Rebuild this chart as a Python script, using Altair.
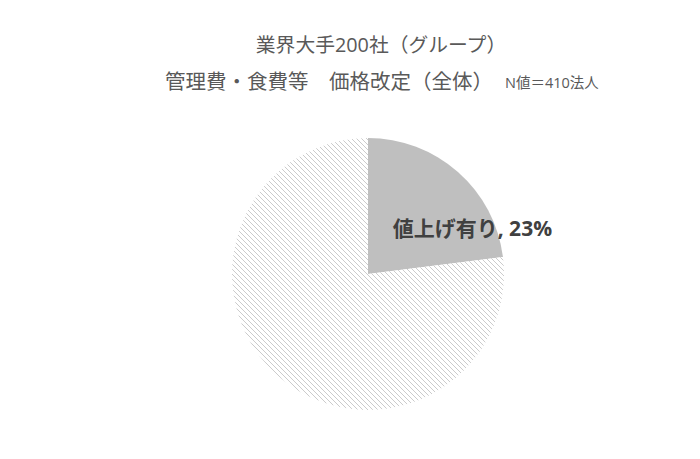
import altair as alt
import pandas as pd

# data
labels = ["値上げ有り", "その他"]
values = [23, 77]
orders = [1, 2]

title_line1 = "業界大手200社（グループ）"
title_line2 = "管理費・食費等　価格改定（全体）"
note_text = "N値＝410法人"

df = pd.DataFrame({"label": labels, "value": values, "order": orders})
df["text"] = df["label"] + ", " + df["value"].astype(str) + "%"

CX, CY, R = 360, 266, 136

# diagonal hatch built as a hard-stop linear gradient (5px horizontal period)
period = 5.0 / (4 * R)
stripe_frac = 0.32
stripe_col = "#cbcbcb"
stops = []
i = 0
while i * period < 1:
    a = i * period
    b = min(1.0, (i + stripe_frac) * period)
    c = min(1.0, (i + 1) * period)
    stops += [
        {"offset": a, "color": stripe_col},
        {"offset": b, "color": stripe_col},
        {"offset": b, "color": "#ffffff"},
        {"offset": c, "color": "#ffffff"},
    ]
    i += 1
hatch = {"gradient": "linear", "x1": 0, "y1": 1, "x2": 1, "y2": 0, "stops": stops}

FONT = "Open Sans, Noto Sans CJK JP"

base = alt.Chart(df)

pie = base.mark_arc(radius=R).encode(
    x=alt.value(CX), y=alt.value(CY),
    theta=alt.Theta("value:Q", stack=True),
    order=alt.Order("order:Q"),
    fill=alt.condition("datum.label == '値上げ有り'", alt.value("#bfbfbf"), alt.value(hatch)),
)

label = base.mark_text(
    radius=60, align="left", baseline="middle", dx=-15, dy=1,
    font=FONT, fontSize=21, fontWeight="bold", color="#404040",
).encode(
    x=alt.value(CX), y=alt.value(CY),
    theta=alt.Theta("value:Q", stack=True),
    order=alt.Order("order:Q"),
    text="text:N",
    opacity=alt.condition("datum.label == '値上げ有り'", alt.value(1), alt.value(0)),
)

t1 = alt.Chart(pd.DataFrame({"t": [title_line1]})).mark_text(
    align="center", baseline="middle", font=FONT, fontSize=19.8, color="#595959"
).encode(text="t:N", x=alt.value(373), y=alt.value(38))

t2 = alt.Chart(pd.DataFrame({"t": [title_line2]})).mark_text(
    align="left", baseline="middle", font=FONT, fontSize=20.5, color="#595959"
).encode(text="t:N", x=alt.value(157), y=alt.value(75))

t3 = alt.Chart(pd.DataFrame({"t": [note_text]})).mark_text(
    align="left", baseline="middle", font=FONT, fontSize=14.5, color="#595959"
).encode(text="t:N", x=alt.value(497), y=alt.value(76))

chart = alt.layer(pie, label, t1, t2, t3).properties(
    width=684, height=443, padding=0, background="white"
).configure_view(stroke=None)

chart.save("out.html", embed_options={"renderer": "svg", "actions": False})
